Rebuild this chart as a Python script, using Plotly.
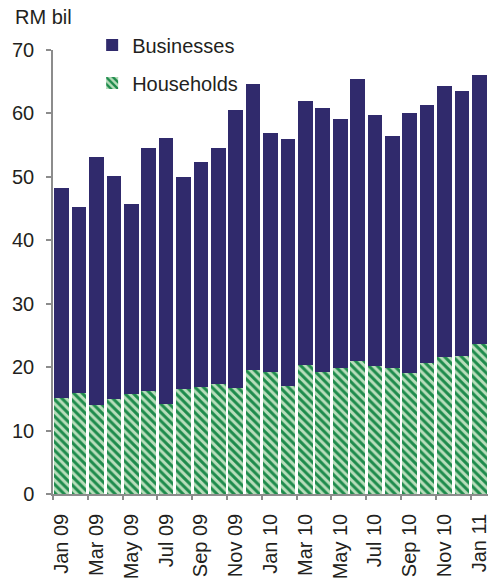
import plotly.graph_objects as go

# Monthly loans, RM billion
months = ["Jan 09", "Feb 09", "Mar 09", "Apr 09", "May 09", "Jun 09", "Jul 09",
          "Aug 09", "Sep 09", "Oct 09", "Nov 09", "Dec 09", "Jan 10", "Feb 10",
          "Mar 10", "Apr 10", "May 10", "Jun 10", "Jul 10", "Aug 10", "Sep 10",
          "Oct 10", "Nov 10", "Dec 10", "Jan 11"]
households = [15.1, 16.0, 14.0, 14.9, 15.8, 16.2, 14.2, 16.6, 16.8, 17.4, 16.7, 19.6,
              19.3, 17.1, 20.4, 19.3, 19.9, 20.9, 20.2, 19.9, 19.1, 20.6, 21.6, 21.8, 23.6]
totals = [48.3, 45.2, 53.1, 50.2, 45.8, 54.6, 56.2, 49.9, 52.4, 54.6, 60.6, 64.7,
          56.9, 55.9, 61.9, 60.9, 59.1, 65.4, 59.7, 56.5, 60.0, 61.3, 64.4, 63.5, 66.0]
businesses = [round(t - h, 1) for t, h in zip(totals, households)]

tick_labels = months[::2]

NAVY = "#302a6c"
GREEN_DARK = "#1e8b4c"
GREEN_LIGHT = "#b8debb"
AXIS_GREY = "#8c8c8c"
TEXT = "#231f20"
FONT = "Liberation Sans, Arial, sans-serif"
FS = 20

x = list(range(len(months)))

fig = go.Figure()
fig.add_trace(go.Bar(
    x=x, y=households, name="Households", legendgroup="hh", legendrank=2,
    marker=dict(color=GREEN_LIGHT, line=dict(width=0),
                pattern=dict(shape="\\", fgcolor=GREEN_DARK, bgcolor=GREEN_LIGHT,
                             size=6, solidity=0.5, fillmode="replace")),
))
fig.add_trace(go.Bar(
    x=x, y=businesses, name="Businesses", legendgroup="bus", legendrank=1,
    marker=dict(color=NAVY, line=dict(width=0)),
))
# invisible trace on a second x-axis carrying the boundary ticks
fig.add_trace(go.Scatter(x=[-0.5], y=[0], xaxis="x2", mode="markers",
                         marker=dict(opacity=0), showlegend=False, hoverinfo="skip"))

fig.update_layout(
    width=494, height=583,
    margin=dict(l=53, r=4, t=50, b=88),
    paper_bgcolor="white", plot_bgcolor="white",
    barmode="stack", bargap=0.15,
    font=dict(family=FONT, size=FS, color=TEXT),
    showlegend=True,
    legend=dict(traceorder="grouped", x=0.09, y=1.055, xanchor="left",
                yanchor="top", bgcolor="rgba(0,0,0,0)",
                font=dict(size=FS, color=TEXT), itemwidth=30, tracegroupgap=9),
    xaxis=dict(range=[-0.5, 24.5], tickmode="array", tickvals=x[::2],
               ticktext=tick_labels, tickangle=-90,
               ticks="outside", ticklen=10, tickcolor="rgba(0,0,0,0)",
               showline=True, linecolor=AXIS_GREY, linewidth=1.5,
               showgrid=False, zeroline=False,
               tickfont=dict(size=FS, color=TEXT)),
    xaxis2=dict(range=[-0.5, 24.5], overlaying="x", anchor="y",
                tickmode="array", tickvals=[i - 0.5 for i in range(0, 25, 2)],
                ticks="outside", ticklen=5, tickcolor=AXIS_GREY, tickwidth=1.5,
                showticklabels=False, showgrid=False, zeroline=False,
                side="bottom", showline=False),
    yaxis=dict(range=[0, 70], tickmode="array", tickvals=list(range(0, 71, 10)),
               ticks="outside", ticklen=5, tickcolor=AXIS_GREY, tickwidth=1.5,
               ticklabelstandoff=8,
               showline=True, linecolor=AXIS_GREY, linewidth=1.5,
               showgrid=False, zeroline=False,
               tickfont=dict(size=FS, color=TEXT)),
    annotations=[dict(text="RM bil", xref="paper", yref="paper", x=-0.092, y=1.075,
                      xanchor="left", yanchor="middle", showarrow=False,
                      font=dict(size=FS, color=TEXT))],
)

fig.write_html("out.html")
